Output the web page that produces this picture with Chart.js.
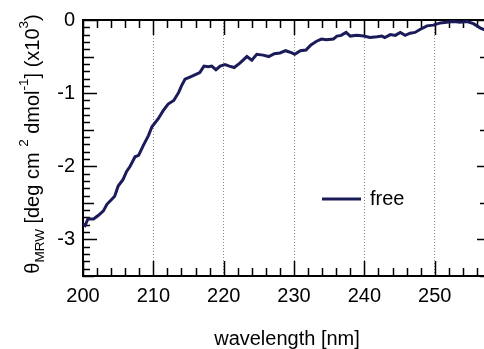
<!DOCTYPE html>
<html><head><meta charset="utf-8">
<script src="https://cdn.jsdelivr.net/npm/chart.js@4/dist/chart.umd.min.js"></script>
<style>html,body{margin:0;padding:0;overflow:hidden;background:#fff;width:484px;height:349px}canvas{display:block}</style>
</head><body>
<canvas id="c" width="492" height="349"></canvas>
<script>
const wavelength = [200.0,200.3,200.7,201.5,202.2,202.9,203.4,204.1,204.5,205.0,205.7,206.2,206.7,207.4,207.9,208.6,209.3,209.8,210.7,211.4,212.1,212.9,213.6,214.0,214.5,215.2,215.9,216.6,217.2,217.8,218.3,218.9,219.5,220.2,220.8,221.5,222.3,223.3,224.0,224.7,225.6,226.4,227.2,228.0,228.8,229.7,230.1,230.9,231.7,232.4,233.2,233.9,234.6,235.6,236.1,236.7,237.4,238.0,238.9,239.9,240.8,241.8,242.5,242.9,243.7,244.4,245.1,245.8,246.5,247.2,247.9,248.9,249.8,250.8,251.7,252.7,253.6,254.6,255.5,256.5,257.0,257.5,258.0];
const thetaFree = [-2.79,-2.81,-2.72,-2.72,-2.67,-2.61,-2.52,-2.45,-2.41,-2.27,-2.18,-2.07,-2.00,-1.87,-1.85,-1.71,-1.58,-1.46,-1.35,-1.24,-1.15,-1.10,-0.99,-0.90,-0.81,-0.78,-0.75,-0.72,-0.63,-0.64,-0.63,-0.68,-0.63,-0.61,-0.63,-0.65,-0.59,-0.50,-0.55,-0.47,-0.48,-0.50,-0.46,-0.45,-0.42,-0.45,-0.47,-0.42,-0.41,-0.34,-0.29,-0.26,-0.27,-0.26,-0.22,-0.21,-0.17,-0.22,-0.21,-0.22,-0.24,-0.23,-0.22,-0.24,-0.20,-0.21,-0.17,-0.21,-0.18,-0.17,-0.13,-0.08,-0.07,-0.04,-0.03,-0.02,-0.03,-0.02,-0.05,-0.11,-0.13,-0.16,-0.19];
const xTicks = [200,210,220,230,240,250];
const yTicks = [0,-1,-2,-3];
const xRange = [200,258];
const yRange = [-3.5,0];
const seriesLabel = 'free';
const xTitle = 'wavelength [nm]';
const yTitleParts = [['θ','n'],['MRW','sub'],[' [deg cm ','n'],['2','sup'],[' dmol','n'],['-1','sup'],['] (x10','n'],['3','sup'],[')','n']];

const FONT = '"Liberation Sans", Arial, Helvetica, sans-serif';
const LINE = '#1b1b5a';

const framePlugin = {
  id: 'frame',
  beforeDatasetsDraw(chart) {
    const ctx = chart.ctx, a = chart.chartArea, xs = chart.scales.x, ys = chart.scales.y;
    ctx.save();
    ctx.strokeStyle = '#000';
    ctx.lineWidth = 1.5;
    ctx.beginPath();
    for (let v = xRange[0]; v <= xRange[1] + 1e-9; v += 2) {
      const px = Math.round(xs.getPixelForValue(v)) + 0.5;
      const major = Math.abs(v % 10) < 1e-9;
      const L = major ? 15 : 8;
      ctx.moveTo(px, a.bottom); ctx.lineTo(px, a.bottom - L);
      ctx.moveTo(px, a.top); ctx.lineTo(px, a.top + L);
    }
    for (let i = 0; i <= 35; i++) {
      const v = -i / 10;
      const py = Math.round(ys.getPixelForValue(v)) + 0.5;
      const L = (i % 10 === 0) ? 14 : (i % 5 === 0 ? 11 : 7);
      ctx.moveTo(a.left, py); ctx.lineTo(a.left + L, py);
      ctx.moveTo(a.right, py); ctx.lineTo(a.right - L, py);
    }
    ctx.stroke();
    ctx.lineWidth = 2;
    ctx.strokeRect(a.left, a.top, a.right - a.left, a.bottom - a.top);
    ctx.restore();
  },
  afterDraw(chart) {
    const ctx = chart.ctx;
    ctx.save();
    ctx.fillStyle = '#000';
    ctx.font = '20px ' + FONT;
    ctx.textAlign = 'center'; ctx.textBaseline = 'middle';
    ctx.fillText(xTitle, 287, 339);
    const sizes = {n: 20, sub: 13.5, sup: 13.5};
    const offs = {n: 0, sub: 5, sup: -11};
    let total = 0;
    yTitleParts.forEach(([t, k]) => { ctx.font = sizes[k] + 'px ' + FONT; total += ctx.measureText(t).width; });
    ctx.translate(39, 144);
    ctx.rotate(-Math.PI / 2);
    ctx.textAlign = 'left'; ctx.textBaseline = 'alphabetic';
    let x = -total / 2;
    yTitleParts.forEach(([t, k]) => {
      ctx.font = sizes[k] + 'px ' + FONT;
      ctx.fillText(t, x, offs[k]);
      x += ctx.measureText(t).width;
    });
    ctx.restore();
    ctx.save();
    const ds = chart.data.datasets[0];
    ctx.strokeStyle = ds.borderColor; ctx.lineWidth = 2.8;
    ctx.beginPath(); ctx.moveTo(322, 199); ctx.lineTo(361, 199); ctx.stroke();
    ctx.fillStyle = '#000';
    ctx.font = '20px ' + FONT;
    ctx.textAlign = 'left'; ctx.textBaseline = 'middle';
    ctx.fillText(ds.label, 370, 199);
    ctx.restore();
  }
};

new Chart(document.getElementById('c'), {
  type: 'line',
  data: {
    datasets: [{
      label: seriesLabel,
      data: wavelength.map((w, i) => ({x: w, y: thetaFree[i]})),
      borderColor: LINE,
      borderWidth: 3,
      pointRadius: 0,
      tension: 0,
      fill: false
    }]
  },
  options: {
    responsive: false,
    animation: false,
    devicePixelRatio: 1,
    layout: {padding: {top: 17, right: 1, left: 0, bottom: 0}},
    plugins: {legend: {display: false}, tooltip: {enabled: false}},
    scales: {
      x: {
        type: 'linear', position: 'bottom', min: xRange[0], max: xRange[1],
        afterFit: s => { s.height = 73; },
        afterBuildTicks: s => { s.ticks = xTicks.map(v => ({value: v})); },
        ticks: {font: {size: 20, family: FONT}, color: '#000', padding: 8, maxRotation: 0, autoSkip: false},
        grid: {drawTicks: false, lineWidth: 1,
          color: c => (c.tick && c.tick.value > xRange[0] && c.tick.value < xRange[1]) ? '#8a8a8a' : 'rgba(0,0,0,0)'},
        border: {display: false, dash: [1, 2]}
      },
      y: {
        type: 'linear', position: 'left', min: yRange[0], max: yRange[1],
        afterFit: s => { s.width = 83; },
        afterBuildTicks: s => { s.ticks = yTicks.map(v => ({value: v})); },
        ticks: {font: {size: 20, family: FONT}, color: '#000', padding: 8, callback: v => String(v)},
        grid: {display: false, drawTicks: false},
        border: {display: false}
      }
    }
  },
  plugins: [framePlugin]
});
</script>
</body></html>
